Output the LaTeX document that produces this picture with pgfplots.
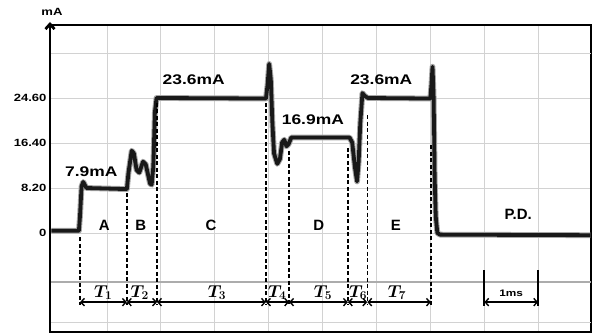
\documentclass[border=0pt]{standalone}
\usepackage{pgfplots}
\pgfplotsset{compat=1.18}
\usepackage{fontspec}
\setmainfont{Liberation Sans}
\newfontfamily\widefont[FakeStretch=1.25]{Liberation Sans}
\usetikzlibrary{arrows.meta}
\newcommand\labfont{\widefont\bfseries\fontsize{14}{14}\selectfont}
\newcommand\letfont{\bfseries\fontsize{15}{15}\selectfont}
\tikzset{dl/.style={line width=1.4bp, dash pattern=on 4bp off 2.5bp},
  da/.style={line width=1.4bp, {Straight Barb[length=3.5bp,width=7.5bp]}-{Straight Barb[length=3.5bp,width=7.5bp]}},
  tl/.style={anchor=base, font=\fontsize{16.5}{16.5}\selectfont\boldmath}}
\begin{document}
\begin{tikzpicture}
\begin{axis}[
  scale only axis, width=541bp, height=307bp,
  xmin=-0.056, xmax=9.98, ymin=-18.04, ymax=37.9,
  axis line style={line width=2.2bp},
  xtick={1,...,9}, xticklabels={},
  ytick={0,8.2,16.4,24.6}, yticklabels={0,8.20,16.40,24.60},
  extra y ticks={32.8,-16.2}, extra y tick labels={},
  extra y tick style={grid=major},
  grid=major, major grid style={gray!35, line width=0.7bp},
  tick style={draw=none},
  yticklabel style={font=\widefont\bfseries\fontsize{10.5}{10.5}\selectfont},
  clip=false,
]
\draw[gray!65, line width=1.4bp] (axis cs:-0.056,-8.9) -- (axis cs:9.98,-8.9);
% current trace (ms, mA)
\addplot[gray!70, line width=5.8bp, line join=round] coordinates {
(-0.03,0.4) (0.48,0.4) (0.50,3) (0.53,8.5) (0.56,9.3) (0.62,8.2) (1.37,8.0)
(1.40,11) (1.46,15.0) (1.50,14.5) (1.55,11.5) (1.60,11.0) (1.67,13.0) (1.72,12.5)
(1.80,9.0) (1.83,8.8) (1.86,12) (1.89,22) (1.92,24.6) (3.95,24.5) (3.98,27)
(4.01,30.8) (4.04,28) (4.07,20) (4.10,14.5) (4.16,12.6) (4.21,13.5) (4.25,16.5)
(4.29,17.0) (4.33,15.8) (4.37,16.2) (4.42,17.4) (5.50,17.4) (5.55,16.5) (5.60,12)
(5.64,9.4) (5.67,13) (5.70,20) (5.74,25.5) (5.78,25.0) (5.84,24.6) (7.00,24.5)
(7.02,27) (7.04,30.3) (7.06,25) (7.07,18) (7.08,10) (7.10,3) (7.13,0.0)
(7.18,-0.3) (9.97,-0.4)};
\addplot[black!90, line width=3.8bp, line join=round] coordinates {
(-0.03,0.4) (0.48,0.4) (0.50,3) (0.53,8.5) (0.56,9.3) (0.62,8.2) (1.37,8.0)
(1.40,11) (1.46,15.0) (1.50,14.5) (1.55,11.5) (1.60,11.0) (1.67,13.0) (1.72,12.5)
(1.80,9.0) (1.83,8.8) (1.86,12) (1.89,22) (1.92,24.6) (3.95,24.5) (3.98,27)
(4.01,30.8) (4.04,28) (4.07,20) (4.10,14.5) (4.16,12.6) (4.21,13.5) (4.25,16.5)
(4.29,17.0) (4.33,15.8) (4.37,16.2) (4.42,17.4) (5.50,17.4) (5.55,16.5) (5.60,12)
(5.64,9.4) (5.67,13) (5.70,20) (5.74,25.5) (5.78,25.0) (5.84,24.6) (7.00,24.5)
(7.02,27) (7.04,30.3) (7.06,25) (7.07,18) (7.08,10) (7.10,3) (7.13,0.0)
(7.18,-0.3) (9.97,-0.4)};
% dashed markers
\draw[dl] (axis cs:0.50,-0.8) -- (axis cs:0.50,-13.1);
\draw[dl] (axis cs:1.37,7.3) -- (axis cs:1.37,-13.1);
\draw[dl] (axis cs:1.93,23.7) -- (axis cs:1.93,-13.1);
\draw[dl] (axis cs:3.95,23.7) -- (axis cs:3.95,-13.1);
\draw[dl] (axis cs:4.38,15.0) -- (axis cs:4.38,-13.1);
\draw[dl] (axis cs:5.47,15.5) -- (axis cs:5.47,-13.1);
\draw[dl] (axis cs:5.83,21.5) -- (axis cs:5.83,-13.1);
\draw[dl] (axis cs:7.01,16.0) -- (axis cs:7.01,-13.1);
% interval arrows
\draw[da] (axis cs:0.50,-12.6) -- (axis cs:1.37,-12.6);
\draw[da] (axis cs:1.37,-12.6) -- (axis cs:1.93,-12.6);
\draw[da] (axis cs:1.93,-12.6) -- (axis cs:3.95,-12.6);
\draw[da] (axis cs:3.95,-12.6) -- (axis cs:4.38,-12.6);
\draw[da] (axis cs:4.38,-12.6) -- (axis cs:5.47,-12.6);
\draw[da] (axis cs:5.47,-12.6) -- (axis cs:5.83,-12.6);
\draw[da] (axis cs:5.83,-12.6) -- (axis cs:7.01,-12.6);
\node[tl] at (axis cs:0.93,-11.7) {$T_{1}$};
\node[tl] at (axis cs:1.61,-11.7) {$T_{2}$};
\node[tl] at (axis cs:3.04,-11.7) {$T_{3}$};
\node[tl] at (axis cs:4.16,-11.7) {$T_{4}$};
\node[tl] at (axis cs:5.01,-11.7) {$T_{5}$};
\node[tl] at (axis cs:5.66,-11.7) {$T_{6}$};
\node[tl] at (axis cs:6.38,-11.7) {$T_{7}$};
% 1 ms scale bar
\draw[line width=1.8bp] (axis cs:8,-6.8) -- (axis cs:8,-13.3);
\draw[line width=1.8bp] (axis cs:9,-6.8) -- (axis cs:9,-13.3);
\draw[da] (axis cs:8,-12.6) -- (axis cs:9,-12.6);
\node[font=\widefont\bfseries\fontsize{9.5}{9.5}\selectfont] at (axis cs:8.5,-10.9) {1ms};
% value labels
\node[font=\labfont] at (axis cs:0.71,11.1) {7.9mA};
\node[font=\labfont] at (axis cs:2.61,27.9) {23.6mA};
\node[font=\labfont] at (axis cs:4.82,20.6) {16.9mA};
\node[font=\labfont] at (axis cs:6.09,27.9) {23.6mA};
% phase letters
\node[font=\letfont] at (axis cs:0.95,1.45) {A};
\node[font=\letfont] at (axis cs:1.63,1.45) {B};
\node[font=\letfont] at (axis cs:2.93,1.45) {C};
\node[font=\letfont] at (axis cs:4.93,1.45) {D};
\node[font=\letfont] at (axis cs:6.36,1.45) {E};
\node[font=\letfont] at (axis cs:8.63,3.4) {P.D.};
\end{axis}
\draw[line width=2.8bp, -{Straight Barb[length=5bp,width=9bp]}] (current axis.south west) -- ([yshift=3bp]current axis.north west);
\node[font=\widefont\bfseries\fontsize{10.5}{10.5}\selectfont] at ([yshift=13bp,xshift=2bp]current axis.north west) {mA};
\pgfresetboundingbox
\useasboundingbox ([xshift=-50bp,yshift=-3bp]current axis.south west) rectangle ([xshift=5bp,yshift=25bp]current axis.north east);
\end{tikzpicture}
\end{document}
